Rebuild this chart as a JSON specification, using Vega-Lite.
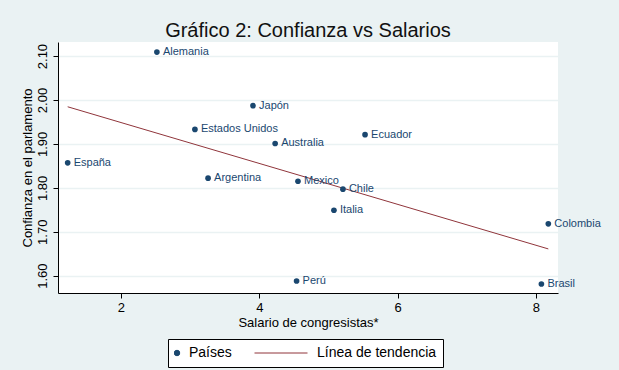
{
  "$schema": "https://vega.github.io/schema/vega-lite/v6.json",
  "width": 500,
  "height": 251,
  "autosize": {"type": "none"},
  "padding": {"left": 58, "top": 42, "right": 61, "bottom": 77},
  "background": "#EAF2F3",
  "config": {
    "view": {"fill": "white", "stroke": null},
    "font": "Liberation Sans",
    "legend": {
      "title": null,
      "orient": "none",
      "legendX": 110,
      "legendY": 297,
      "direction": "horizontal",
      "strokeColor": "black",
      "fillColor": "white",
      "padding": 6,
      "labelFontSize": 14,
      "labelColor": "black",
      "columnPadding": 22,
      "clipHeight": 16
    }
  },
  "title": {
    "text": "Gráfico 2: Confianza vs Salarios",
    "fontSize": 20,
    "fontWeight": "normal",
    "color": "#111111",
    "anchor": "middle",
    "offset": 1
  },
  "data": {
    "values": [
      {"pais": "Alemania", "salario": 2.52, "confianza": 2.109},
      {"pais": "Japón", "salario": 3.91, "confianza": 1.987},
      {"pais": "Estados Unidos", "salario": 3.07, "confianza": 1.933},
      {"pais": "Australia", "salario": 4.23, "confianza": 1.901},
      {"pais": "España", "salario": 1.23, "confianza": 1.857},
      {"pais": "Ecuador", "salario": 5.53, "confianza": 1.921},
      {"pais": "Argentina", "salario": 3.26, "confianza": 1.822},
      {"pais": "Mexico", "salario": 4.56, "confianza": 1.815},
      {"pais": "Chile", "salario": 5.21, "confianza": 1.797},
      {"pais": "Italia", "salario": 5.08, "confianza": 1.749},
      {"pais": "Colombia", "salario": 8.18, "confianza": 1.718},
      {"pais": "Perú", "salario": 4.54, "confianza": 1.588},
      {"pais": "Brasil", "salario": 8.08, "confianza": 1.581}
    ]
  },
  "layer": [
    {
      "transform": [{"regression": "confianza", "on": "salario"}],
      "mark": {"type": "line", "strokeWidth": 1, "clip": false},
      "encoding": {
        "x": {"field": "salario", "type": "quantitative"},
        "y": {"field": "confianza", "type": "quantitative"},
        "color": {
          "datum": "Línea de tendencia",
          "scale": {"domain": ["Países", "Línea de tendencia"], "range": ["#1A476F", "#90353B"]},
          "legend": {
            "labelFontSize": 14,
            "encode": {
              "symbols": {
                "update": {
                  "x": {"signal": "datum.value === 'Países' ? 3 : 27"},
                  "shape": {"signal": "datum.value === 'Países' ? 'circle' : 'stroke'"},
                  "size": {"signal": "datum.value === 'Países' ? 30 : 2809"},
                  "fill": {"signal": "datum.value === 'Países' ? '#1A476F' : 'transparent'"},
                  "stroke": {"signal": "datum.value === 'Países' ? '#1A476F' : '#90353B'"},
                  "strokeWidth": {"value": 1},
                  "opacity": {"value": 1}
                }
              },
              "labels": {
                "update": {
                  "x": {"signal": "datum.value === 'Países' ? 15 : 63"},
                  "fontSize": {"value": 14}
                }
              }
            }
          }
        }
      }
    },
    {
      "mark": {"type": "point", "filled": true, "size": 32, "opacity": 1},
      "encoding": {
        "x": {
          "field": "salario",
          "type": "quantitative",
          "scale": {"domain": [1.09, 8.32], "nice": false, "zero": false},
          "axis": {
            "values": [2, 4, 6, 8],
            "format": "d",
            "title": "Salario de congresistas*",
            "grid": false,
            "domainColor": "black",
            "tickColor": "black",
            "tickSize": 5,
            "labelFontSize": 13,
            "labelColor": "black",
            "labelPadding": 3,
            "titleFontSize": 13,
            "titleFontWeight": "normal",
            "titleColor": "black",
            "titlePadding": 2
          }
        },
        "y": {
          "field": "confianza",
          "type": "quantitative",
          "scale": {"domain": [1.5606, 2.132], "nice": false, "zero": false},
          "axis": {
            "values": [1.6, 1.7, 1.8, 1.9, 2.0, 2.1],
            "format": ".2f",
            "title": "Confianza en el parlamento",
            "labelAngle": -90,
            "grid": true,
            "gridColor": "#EAF2F3",
            "gridWidth": 1.5,
            "domainColor": "black",
            "tickColor": "black",
            "tickSize": 5,
            "labelFontSize": 13,
            "labelColor": "black",
            "labelPadding": 4,
            "titleFontSize": 13,
            "titleFontWeight": "normal",
            "titleColor": "black",
            "titlePadding": 2
          }
        },
        "color": {
          "datum": "Países",
          "scale": {"domain": ["Países", "Línea de tendencia"], "range": ["#1A476F", "#90353B"]},
          "legend": {
            "labelFontSize": 14,
            "encode": {
              "symbols": {
                "update": {
                  "x": {"signal": "datum.value === 'Países' ? 3 : 27"},
                  "shape": {"signal": "datum.value === 'Países' ? 'circle' : 'stroke'"},
                  "size": {"signal": "datum.value === 'Países' ? 30 : 2809"},
                  "fill": {"signal": "datum.value === 'Países' ? '#1A476F' : 'transparent'"},
                  "stroke": {"signal": "datum.value === 'Países' ? '#1A476F' : '#90353B'"},
                  "strokeWidth": {"value": 1},
                  "opacity": {"value": 1}
                }
              },
              "labels": {
                "update": {
                  "x": {"signal": "datum.value === 'Países' ? 15 : 63"},
                  "fontSize": {"value": 14}
                }
              }
            }
          }
        }
      }
    },
    {
      "mark": {"type": "text", "align": "left", "baseline": "middle", "dx": 6, "fontSize": 11, "color": "#1A476F"},
      "encoding": {
        "x": {"field": "salario", "type": "quantitative"},
        "y": {"field": "confianza", "type": "quantitative"},
        "text": {"field": "pais"}
      }
    }
  ]
}
